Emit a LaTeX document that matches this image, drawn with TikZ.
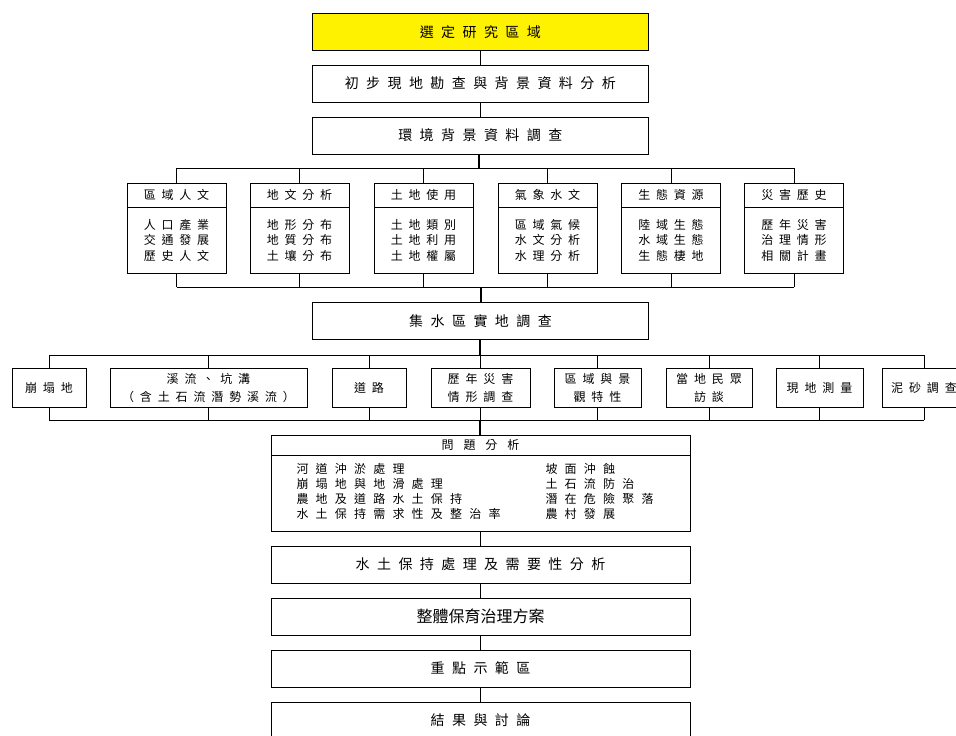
\documentclass[tikz,border=0pt]{standalone}
\usepackage{fontspec}
\newfontfamily\cjk{Noto Sans CJK TC}
\newcommand\bigtxt{\cjk\fontsize{14}{16}\selectfont\addfontfeatures{LetterSpace=53}}
\newcommand\flattxt{\cjk\fontsize{16}{18}\selectfont}
\newcommand\cattxt{\cjk\fontsize{12}{15.5}\selectfont\addfontfeatures{LetterSpace=48}}
\newcommand\rowtxt{\cjk\fontsize{12}{18}\selectfont\addfontfeatures{LetterSpace=49}}
\newcommand\probtxt{\cjk\fontsize{12}{15}\selectfont\addfontfeatures{LetterSpace=60}}
\newcommand\probhead{\cjk\fontsize{12}{15}\selectfont\addfontfeatures{LetterSpace=82}}

\begin{document}
\begin{tikzpicture}[x=1pt, y=-1pt,
    box/.style={draw=black, line width=0.8pt, inner sep=0pt,
        minimum width=336pt, minimum height=37pt, font=\bigtxt},
    catbox/.style={draw=black, line width=0.8pt, inner sep=0pt,
        minimum width=99pt, minimum height=90pt, hdr=24pt},
    itembox/.style={draw=black, line width=0.8pt, inner sep=0pt,
        minimum height=39pt, align=center, font=\rowtxt},
    hdr/.style={path picture={
        \draw[line width=0.8pt] ([yshift=-#1]path picture bounding box.north west)
            -- ([yshift=-#1]path picture bounding box.north east);}},
    link/.style={line width=0.8pt},
    trunk/.style={line width=1.4pt}]
    \useasboundingbox (0,0) rectangle (956,736);
    \clip (0,0) rectangle (956,736);

    % Haut du sch\'ema
    \node[box, fill=yellow] (sel) at (480.3,32) {選定研究區域};
    \node[box] (pre) at (480.3,83.5) {初步現地勘查與背景資料分析};
    \node[box] (env) at (480.3,135.5) {環境背景資料調查};
    \draw[link] (sel) -- (pre);
    \draw[link] (pre) -- (env);

    % Six th\`emes
    \coordinate (busa) at (479,168);
    \coordinate (busb) at (481,287);
    \node[catbox] (c1) at (176.5,228) {};
    \node[catbox] (c2) at (299.5,228) {};
    \node[catbox] (c3) at (423.5,228) {};
    \node[catbox] (c4) at (547.5,228) {};
    \node[catbox] (c5) at (671,228) {};
    \node[catbox] (c6) at (794,228) {};
    \node[font=\cattxt] (c1h) at ([yshift=-12.5pt]c1.north) {區域人文};
    \node[font=\cattxt] (c2h) at ([yshift=-12.5pt]c2.north) {地文分析};
    \node[font=\cattxt] (c3h) at ([yshift=-12.5pt]c3.north) {土地使用};
    \node[font=\cattxt] (c4h) at ([yshift=-12.5pt]c4.north) {氣象水文};
    \node[font=\cattxt] (c5h) at ([yshift=-12.5pt]c5.north) {生態資源};
    \node[font=\cattxt] (c6h) at ([yshift=-12.5pt]c6.north) {災害歷史};
    \node[font=\cattxt, align=center] (c1b) at ([yshift=-57.5pt]c1.north) {人口產業\\交通發展\\歷史人文};
    \node[font=\cattxt, align=center] (c2b) at ([yshift=-57.5pt]c2.north) {地形分布\\地質分布\\土壤分布};
    \node[font=\cattxt, align=center] (c3b) at ([yshift=-57.5pt]c3.north) {土地類別\\土地利用\\土地權屬};
    \node[font=\cattxt, align=center] (c4b) at ([yshift=-57.5pt]c4.north) {區域氣候\\水文分析\\水理分析};
    \node[font=\cattxt, align=center] (c5b) at ([yshift=-57.5pt]c5.north) {陸域生態\\水域生態\\生態棲地};
    \node[font=\cattxt, align=center] (c6b) at ([yshift=-57.5pt]c6.north) {歷年災害\\治理情形\\相關計畫};
    \draw[trunk] (env.south -| busa) -- (busa);
    \draw[link] (c1.north |- busa) -- (c6.north |- busa);
    \draw[link] (c1.south |- busb) -- (c6.south |- busb);
    \draw[link] (c1.north) -- (c1.north |- busa);
    \draw[link] (c2.north) -- (c2.north |- busa);
    \draw[link] (c3.north) -- (c3.north |- busa);
    \draw[link] (c4.north) -- (c4.north |- busa);
    \draw[link] (c5.north) -- (c5.north |- busa);
    \draw[link] (c6.north) -- (c6.north |- busa);
    \draw[link] (c1.south) -- (c1.south |- busb);
    \draw[link] (c2.south) -- (c2.south |- busb);
    \draw[link] (c3.south) -- (c3.south |- busb);
    \draw[link] (c4.south) -- (c4.south |- busb);
    \draw[link] (c5.south) -- (c5.south |- busb);
    \draw[link] (c6.south) -- (c6.south |- busb);

    % Enqu\^ete de terrain
    \node[box] (wsh) at (480.5,321) {集水區實地調查};
    \draw[trunk] (busb) -- (busb |- wsh.north);
    \coordinate (busc) at (480,355);
    \coordinate (busd) at (480,420);
    \draw[trunk] (busc |- wsh.south) -- (busc);
    \node[itembox, minimum width=74pt] (r1) at (49,387.5) {崩塌地};
    \node[itembox, minimum width=197pt] (r2) at (208.5,387.5) {溪流、坑溝\\（含土石流潛勢溪流）};
    \node[itembox, minimum width=74pt] (r3) at (369,387.5) {道路};
    \node[itembox, minimum width=99pt] (r4) at (480.5,387.5) {歷年災害\\情形調查};
    \node[itembox, minimum width=87pt] (r5) at (597.5,387.5) {區域與景\\觀特性};
    \node[itembox, minimum width=86pt] (r6) at (709,387.5) {當地民眾\\訪談};
    \node[itembox, minimum width=87pt] (r7) at (819.5,387.5) {現地測量};
    \node[itembox, minimum width=84pt] (r8) at (924,387.5) {泥砂調查};
    \draw[link] (r1.north |- busc) -- (r8.north |- busc);
    \draw[link] (r1.south |- busd) -- (r8.south |- busd);
    \draw[link] (r1.north) -- (r1.north |- busc);
    \draw[link] (r2.north) -- (r2.north |- busc);
    \draw[link] (r3.north) -- (r3.north |- busc);
    \draw[link] (r4.north) -- (r4.north |- busc);
    \draw[link] (r5.north) -- (r5.north |- busc);
    \draw[link] (r6.north) -- (r6.north |- busc);
    \draw[link] (r7.north) -- (r7.north |- busc);
    \draw[link] (r8.north) -- (r8.north |- busc);
    \draw[link] (r1.south) -- (r1.south |- busd);
    \draw[link] (r2.south) -- (r2.south |- busd);
    \draw[link] (r3.south) -- (r3.south |- busd);
    \draw[link] (r4.south) -- (r4.south |- busd);
    \draw[link] (r5.south) -- (r5.south |- busd);
    \draw[link] (r6.south) -- (r6.south |- busd);
    \draw[link] (r7.south) -- (r7.south |- busd);
    \draw[link] (r8.south) -- (r8.south |- busd);

    % Analyse des probl\`emes
    \node[draw=black, line width=0.8pt, minimum width=419pt, minimum height=96pt,
        inner sep=0pt, hdr=20pt] (prob) at (480.5,483) {};
    \node[font=\probhead] (probh) at ([yshift=-10pt]prob.north) {問題分析};
    \node[font=\probtxt, anchor=west, align=left] (probl) at (293,491.5)
        {河道沖淤處理\\崩塌地與地滑處理\\農地及道路水土保持\\水土保持需求性及整治率};
    \node[font=\probtxt, anchor=west, align=left] (probr) at (542,491.5)
        {坡面沖蝕\\土石流防治\\潛在危險聚落\\農村發展};
    \draw[trunk] (busd) -- (busd |- prob.north);

    % Suite
    \node[box, minimum width=419pt] (swc) at (480.5,564.5) {水土保持處理及需要性分析};
    \node[box, minimum width=419pt, font=\flattxt] (plan) at (480.5,616.5) {整體保育治理方案};
    \node[box, minimum width=419pt] (demo) at (480.5,668.5) {重點示範區};
    \node[box, minimum width=419pt] (res) at (480.5,720.5) {結果與討論};
    \draw[link] (prob) -- (swc);
    \draw[link] (swc) -- (plan);
    \draw[link] (plan) -- (demo);
    \draw[link] (demo) -- (res);
\end{tikzpicture}
\end{document}
